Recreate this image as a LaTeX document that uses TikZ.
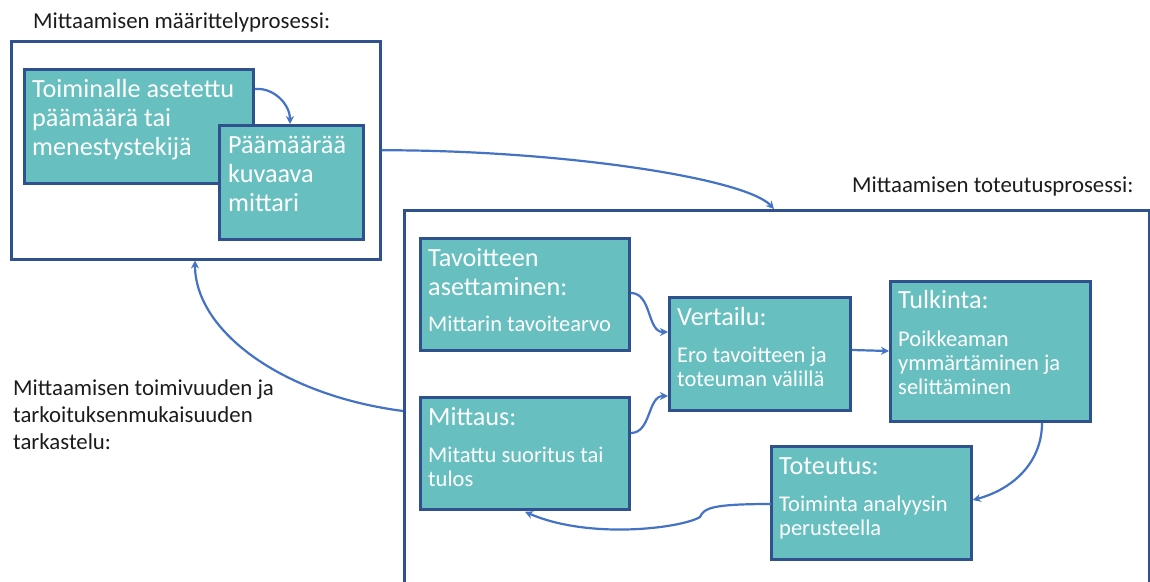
\documentclass[tikz,border=0pt]{standalone}
\usepackage{fontspec}
\setmainfont{Carlito}
\usetikzlibrary{calc,arrows.meta}
\definecolor{tealfill}{HTML}{67BFBF}
\definecolor{bdark}{HTML}{2F528F}
\definecolor{conn}{HTML}{4472C4}
\definecolor{lbl}{HTML}{1C1C1C}
\tikzset{
  frame/.style={draw=bdark, line width=2.5pt, inner sep=0pt, anchor=north west},
  proc/.style={draw=bdark, line width=2.8pt, fill=tealfill, inner sep=0pt, anchor=north west},
  headtxt/.style={text=white, inner sep=0pt, anchor=base west, align=left, font=\fontsize{26.2pt}{29pt}\selectfont},
  subtxt/.style={text=white, inner sep=0pt, anchor=base west, align=left, font=\fontsize{22.5pt}{24pt}\selectfont},
  lbltxt/.style={text=lbl, inner sep=0pt, anchor=base west, align=left, font=\fontsize{22.8pt}{27pt}\selectfont},
  conarrow/.style={draw=conn, line width=2.2pt, -{Stealth[length=8pt,width=8pt]}}
}
\begin{document}
\begin{tikzpicture}[x=1pt,y=-1pt]
\useasboundingbox (0,0) rectangle (1150,581);
\clip (0,0) rectangle (1150,581);
\fill[white] (0,0) rectangle (1150,581);

% outer frames
\node[frame, minimum width=369pt, minimum height=218pt] (box1) at (10,40) {};
\node[frame, minimum width=745pt, minimum height=420pt] (box2) at (403,209) {};

% titles (anchor = baseline of last line)
\node[lbltxt] (t1) at (33,28) {Mittaamisen määrittelyprosessi:};
\node[lbltxt] (t2) at (852,192) {Mittaamisen toteutusprosessi:};
\node[lbltxt] (t3) at (13,449) {Mittaamisen toimivuuden ja\\tarkoituksenmukaisuuden\\tarkastelu:};

% definition boxes
\node[proc, minimum width=229pt, minimum height=114pt] (A) at (23,68) {};
\node[headtxt] (Atxt) at ($(A.north west)+(9,87)$) {Toiminalle asetettu\\päämäärä tai\\menestystekijä};
\node[proc, minimum width=144pt, minimum height=114pt] (B) at (218,124) {};
\node[headtxt] (Btxt) at ($(B.north west)+(10,87)$) {Päämäärää\\kuvaava\\mittari};

% process boxes
\node[proc, minimum width=209pt, minimum height=112pt] (Tav) at (419,237) {};
\node[headtxt] (TavH) at ($(Tav.north west)+(9,58)$) {Tavoitteen\\asettaminen:};
\node[subtxt] (TavS) at ($(Tav.north west)+(9,94)$) {Mittarin tavoitearvo};

\node[proc, minimum width=209pt, minimum height=112pt] (Mit) at (419,396) {};
\node[headtxt] (MitH) at ($(Mit.north west)+(9,29)$) {Mittaus:};
\node[subtxt] (MitS) at ($(Mit.north west)+(9,90)$) {Mitattu suoritus tai\\tulos};

\node[proc, minimum width=181pt, minimum height=113pt] (Vert) at (668,296) {};
\node[headtxt] (VertH) at ($(Vert.north west)+(9,29)$) {Vertailu:};
\node[subtxt] (VertS) at ($(Vert.north west)+(9,90)$) {Ero tavoitteen ja\\toteuman välillä};

\node[proc, minimum width=200pt, minimum height=140pt] (Tulk) at (889,280) {};
\node[headtxt] (TulkH) at ($(Tulk.north west)+(9,28)$) {Tulkinta:};
\node[subtxt] (TulkS) at ($(Tulk.north west)+(9,114)$) {Poikkeaman\\ymmärtäminen ja\\selittäminen};

\node[proc, minimum width=200pt, minimum height=113pt] (Tot) at (770,445) {};
\node[headtxt] (TotH) at ($(Tot.north west)+(9,29)$) {Toteutus:};
\node[subtxt] (TotS) at ($(Tot.north west)+(9,90)$) {Toiminta analyysin\\perusteella};

% connectors
\draw[conarrow] ($(A.north east)+(0,21)$) to[out=5,in=90] ($(B.north west)+(72,0)$);
\draw[conarrow] (box1.east) .. controls (560,150) and (745,178) .. ($(box2.north west)+(371,0)$);
\draw[conarrow] ($(box2.north west)+(0,202)$) .. controls (280,395) and (195,330) .. ($(box1.south west)+(185,0)$);
\draw[conarrow] ($(Tav.north east)+(0,56)$) to[out=0,in=180] ($(Vert.north west)+(0,36)$);
\draw[conarrow] ($(Mit.north east)+(0,37)$) to[out=0,in=180] ($(Vert.north west)+(0,100)$);
\draw[conarrow] ($(Vert.north east)+(0,54)$) -- ($(Tulk.north west)+(0,71)$);
\draw[conarrow] ($(Tulk.south west)+(153,0)$) to[out=-90,in=15] ($(Tot.north east)+(0,55)$);
\draw[conarrow] ($(Tot.north west)+(1,59)$) .. controls (712,504) and (704,508) .. (700,517)
  .. controls (682,528) and (590,540) .. ($(Mit.south west)+(106,1)$);
\end{tikzpicture}
\end{document}
